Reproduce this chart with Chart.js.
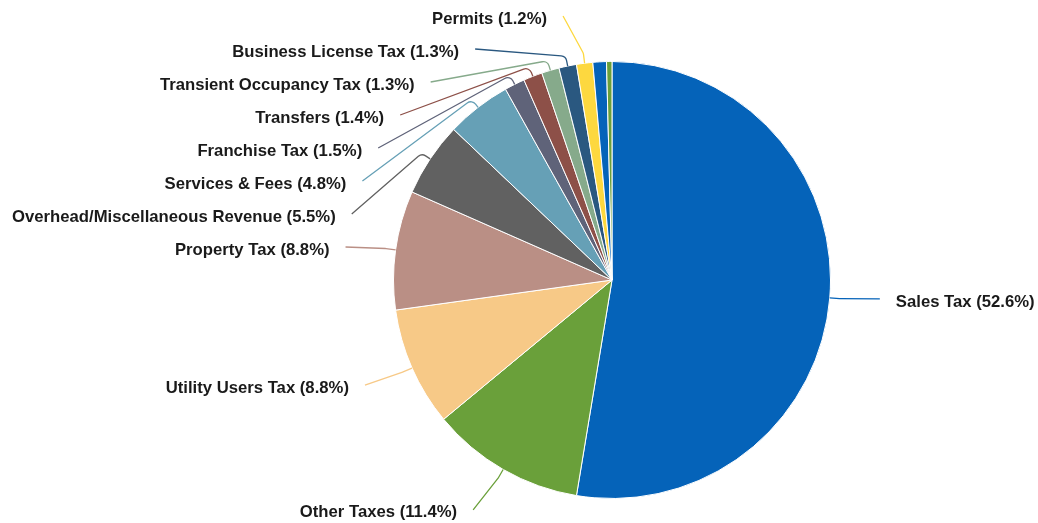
<!DOCTYPE html>
<html>
<head>
<meta charset="utf-8">
<script src="https://cdn.jsdelivr.net/npm/chart.js@4.4.1/dist/chart.umd.min.js"></script>
<style>
  html, body { margin: 0; padding: 0; background: #fff; }
  #wrap { width: 1038px; height: 523px; }
</style>
</head>
<body>
<div id="wrap"><canvas id="revenue-pie" width="1038" height="523"></canvas></div>
<script>
'use strict';

// Revenue categories (clockwise from 12 o'clock); the last two slices carry no label
const categories = [
  'Sales Tax', 'Other Taxes', 'Utility Users Tax', 'Property Tax',
  'Overhead/Miscellaneous Revenue', 'Services & Fees', 'Franchise Tax',
  'Transfers', 'Transient Occupancy Tax', 'Business License Tax', 'Permits',
  '', ''
];
const shares = [52.6, 11.4, 8.8, 8.8, 5.5, 4.8, 1.5, 1.4, 1.3, 1.3, 1.2, 1.0, 0.4];

const palette = [
  '#0563b9', '#6aa03a', '#f7c987', '#ba8f85', '#616161', '#66a0b6',
  '#5f6379', '#8d5048', '#86aa8b', '#2a5880', '#fdd83f'
];
const sliceColors = shares.map((_, i) => palette[i % palette.length]);

// ===== OUTSIDE LABELS WITH LEADER LINES =====
const outerLabels = {
  id: 'outerLabels',
  afterDatasetsDraw(chart) {
    const ctx = chart.ctx;
    const meta = chart.getDatasetMeta(0);
    const values = chart.data.datasets[0].data;
    const total = values.reduce((a, b) => a + b, 0);
    const step = 33;
    const topY = 19;
    const items = [];

    meta.data.forEach((arc, i) => {
      if (!categories[i]) return;
      const p = arc.getProps(['x', 'y', 'startAngle', 'endAngle', 'outerRadius'], true);
      const mid = (p.startAngle + p.endAngle) / 2;
      const R = p.outerRadius + 50;
      items.push({
        i, mid, cx: p.x, cy: p.y, r: p.outerRadius, R,
        left: Math.cos(mid) < 0,
        ny: p.y + Math.sin(mid) * R
      });
    });

    // stack labels on each side so they don't overlap
    [true, false].forEach(side => {
      const group = items.filter(it => it.left === side).sort((a, b) => a.ny - b.ny);
      let prev = -Infinity;
      group.forEach(it => {
        it.ly = Math.max(it.ny, prev + step, topY);
        prev = it.ly;
      });
    });

    ctx.save();
    ctx.font = 'bold 16.7px "Liberation Sans", Arial, sans-serif';
    ctx.textBaseline = 'middle';
    items.forEach(it => {
      const dir = it.left ? -1 : 1;
      const ey = it.ly - 3;
      const dy = Math.min(Math.abs(ey - it.cy), it.R);
      const ex = it.cx + dir * Math.sqrt(it.R * it.R - dy * dy);
      const tx = it.cx + Math.cos(it.mid) * it.r;
      const tyy = it.cy + Math.sin(it.mid) * it.r;
      const bx = it.cx + Math.cos(it.mid) * (it.r + 10);
      const by = it.cy + Math.sin(it.mid) * (it.r + 10);

      ctx.beginPath();
      ctx.moveTo(ex, ey);
      ctx.arcTo(bx, by, tx, tyy, 6);
      ctx.lineTo(tx, tyy);
      ctx.strokeStyle = sliceColors[it.i];
      ctx.lineWidth = 1.3;
      ctx.stroke();

      const pct = (values[it.i] / total * 100).toFixed(1);
      ctx.fillStyle = '#1a1a1a';
      ctx.textAlign = it.left ? 'right' : 'left';
      ctx.fillText(`${categories[it.i]} (${pct}%)`, ex + dir * 16, it.ly);
    });
    ctx.restore();
  }
};

new Chart(document.getElementById('revenue-pie'), {
  type: 'pie',
  data: {
    labels: categories,
    datasets: [{
      data: shares,
      backgroundColor: sliceColors,
      borderColor: '#ffffff',
      borderWidth: 1
    }]
  },
  options: {
    responsive: false,
    animation: false,
    layout: { padding: { left: 300, right: 114, top: 61, bottom: 24 } },
    plugins: {
      legend: { display: false },
      tooltip: { enabled: false }
    }
  },
  plugins: [outerLabels]
});
</script>
</body>
</html>
